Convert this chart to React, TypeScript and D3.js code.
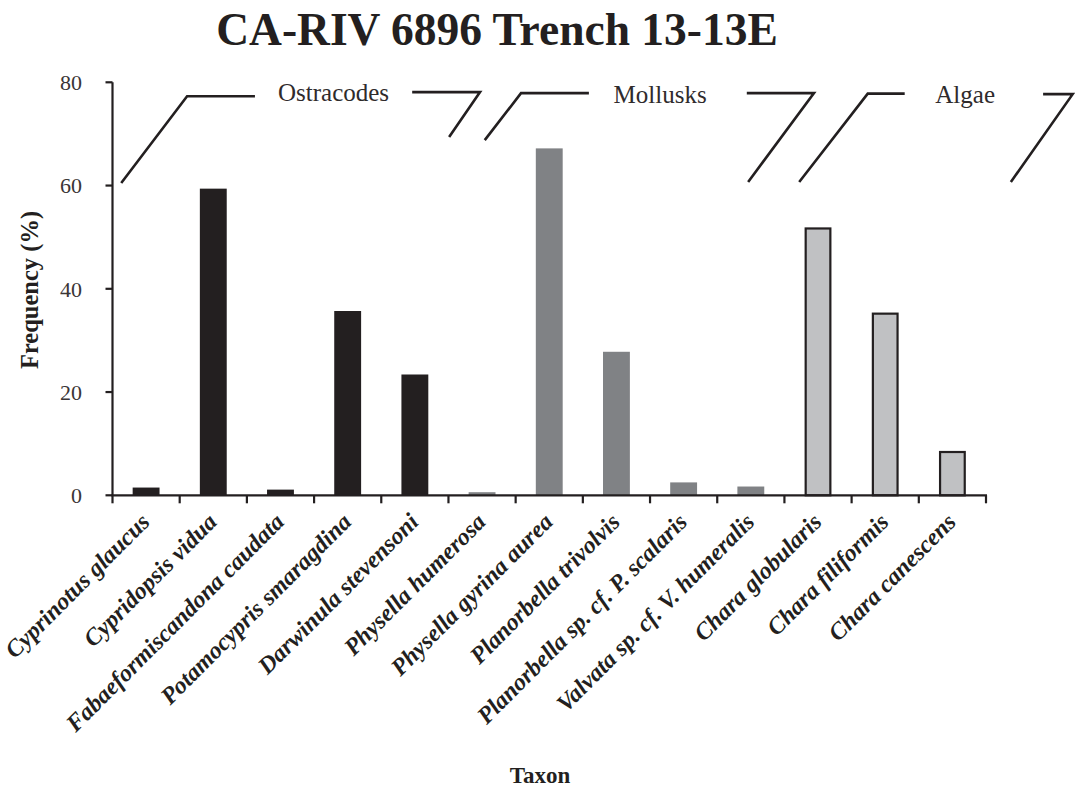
import React from "react";
import * as d3 from "d3";

// Taxa in plotting order
const taxa = [
  "Cyprinotus glaucus",
  "Cypridopsis vidua",
  "Fabaeformiscandona caudata",
  "Potamocypris smaragdina",
  "Darwinula stevensoni",
  "Physella humerosa",
  "Physella gyrina aurea",
  "Planorbella trivolvis",
  "Planorbella sp. cf. P. scalaris",
  "Valvata sp. cf. V. humeralis",
  "Chara globularis",
  "Chara filiformis",
  "Chara canescens",
];

// Frequency (%) of each taxon
const frequency = [1.5, 59.4, 1.1, 35.7, 23.4, 0.6, 67.2, 27.8, 2.5, 1.7, 51.9, 35.4, 8.6];

// Group of each taxon
const taxonGroup = [
  "Ostracodes", "Ostracodes", "Ostracodes", "Ostracodes", "Ostracodes",
  "Mollusks", "Mollusks", "Mollusks", "Mollusks", "Mollusks",
  "Algae", "Algae", "Algae",
];

const groups = ["Ostracodes", "Mollusks", "Algae"];
const yTicks = [0, 20, 40, 60, 80];
const title = "CA-RIV 6896 Trench 13-13E";
const xTitle = "Taxon";
const yTitle = "Frequency (%)";

// Styling per group
const groupFill: Record<string, string> = {
  Ostracodes: "#231f20",
  Mollusks: "#808285",
  Algae: "#c0c1c3",
};
const groupStroke: Record<string, string> = {
  Ostracodes: "none",
  Mollusks: "none",
  Algae: "#231f20",
};

// Group bracket shapes, in category units (u) and percent (v)
const bracketLayout: Record<string, { left: [number, number][]; right: [number, number][]; textU: number; textV: number }> = {
  Ostracodes: {
    left: [[0.13, 60.5], [1.11, 77.3], [2.12, 77.3]],
    right: [[4.46, 78.1], [5.47, 78.1], [5.01, 69.4]],
    textU: 3.29,
    textV: 76.4,
  },
  Mollusks: {
    left: [[5.54, 68.8], [6.08, 77.9], [7.09, 77.9]],
    right: [[9.44, 77.9], [10.44, 77.9], [9.46, 60.7]],
    textU: 8.15,
    textV: 75.9,
  },
  Algae: {
    left: [[10.22, 60.7], [11.24, 77.8], [11.79, 77.8]],
    right: [[13.85, 77.7], [14.29, 77.7], [13.37, 60.7]],
    textU: 12.69,
    textV: 75.9,
  },
};

const W = 1077;
const H = 795;
const X0 = 112.5;
const X1 = 986;
const Y0 = 495.3;
const Y1 = 82.3;
const serif = "'Liberation Serif', 'Times New Roman', serif";
const ink = "#231f20";

export default function App() {
  const x = d3.scaleBand<string>().domain(taxa).range([X0, X1]).paddingInner(0.6).paddingOuter(0.3);
  const xu = d3.scaleLinear().domain([0, taxa.length]).range([X0, X1]);
  const y = d3.scaleLinear().domain([0, 80]).range([Y0, Y1]);
  const line = d3
    .line<[number, number]>()
    .x((d) => xu(d[0]))
    .y((d) => y(d[1]));
  const step = x.step();

  return (
    <svg
      width={W}
      height={H}
      viewBox={`0 0 ${W} ${H}`}
      style={{ position: "absolute", left: 0, top: 0, background: "#fff" }}
      fontFamily={serif}
    >
      <rect width={W} height={H} fill="#fff" />
      <text x={497} y={45} textAnchor="middle" fontSize={45.5} fontWeight="bold" fill={ink}>
        {title}
      </text>

      {/* bars */}
      {taxa.map((t, i) => {
        const g = taxonGroup[i];
        const sw = groupStroke[g] === "none" ? 0 : 2.2;
        return (
          <rect
            key={t}
            x={x(t)! + sw / 2}
            y={y(frequency[i]) + sw / 2}
            width={x.bandwidth() - sw}
            height={Math.max(0, y(0) - y(frequency[i]) - sw / 2)}
            fill={groupFill[g]}
            stroke={groupStroke[g]}
            strokeWidth={sw}
          />
        );
      })}

      {/* y axis */}
      <line x1={X0} x2={X0} y1={y(80)} y2={y(0)} stroke={ink} strokeWidth={2.2} />
      {yTicks.map((v) => (
        <g key={v}>
          <line x1={X0 - 7} x2={X0} y1={y(v)} y2={y(v)} stroke={ink} strokeWidth={2.2} />
          <text x={82} y={y(v)} dy="0.35em" textAnchor="end" fontSize={22} fill="#3a3536">
            {v}
          </text>
        </g>
      ))}

      {/* x axis */}
      <line x1={X0 - 1} x2={X1 + 1} y1={y(0)} y2={y(0)} stroke={ink} strokeWidth={2.2} />
      {d3.range(taxa.length + 1).map((k) => (
        <line key={k} x1={X0 + k * step} x2={X0 + k * step} y1={y(0)} y2={y(0) + 8} stroke={ink} strokeWidth={2.2} />
      ))}
      {taxa.map((t) => {
        const cx = x(t)! + x.bandwidth() / 2;
        return (
          <text
            key={t}
            transform={`translate(${cx + 5},${y(0) + 28}) rotate(-45)`}
            textAnchor="end"
            fontSize={24}
            fontStyle="italic"
            fontWeight="bold"
            fill={ink}
          >
            {t}
          </text>
        );
      })}

      {/* group brackets */}
      {groups.map((g) => {
        const b = bracketLayout[g];
        return (
          <g key={g}>
            <path d={line(b.left)!} fill="none" stroke={ink} strokeWidth={2.6} />
            <path d={line(b.right)!} fill="none" stroke={ink} strokeWidth={2.6} />
            <text x={xu(b.textU)} y={y(b.textV)} textAnchor="middle" fontSize={25} fill="#2f2b2c">
              {g}
            </text>
          </g>
        );
      })}

      <text
        transform={`translate(38,290) rotate(-90)`}
        textAnchor="middle"
        fontSize={24.5}
        fontWeight="bold"
        fill={ink}
      >
        {yTitle}
      </text>
      <text x={540} y={783} textAnchor="middle" fontSize={23} fontWeight="bold" fill={ink}>
        {xTitle}
      </text>
    </svg>
  );
}
